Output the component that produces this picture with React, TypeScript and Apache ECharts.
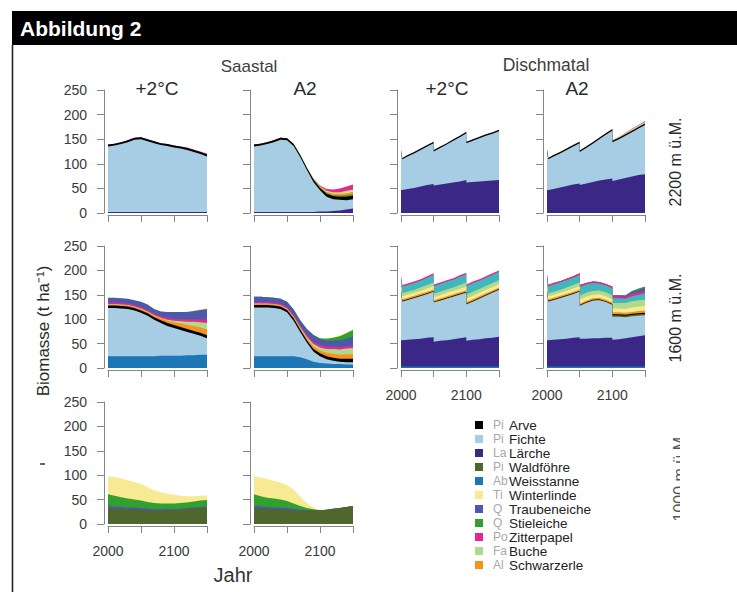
import React, { useEffect, useRef } from "react";
import * as echarts from "echarts";

const FONT = "'Liberation Sans', Arial, Helvetica, sans-serif";

// ---- time axes ----
const yearsSmooth = [2000, 2010, 2020, 2030, 2040, 2050, 2060, 2070, 2080, 2090, 2100, 2110, 2120, 2130, 2140, 2150];
const yearsSaw = [2000, 2002, 2010, 2020, 2030, 2040, 2050, 2050, 2060, 2070, 2080, 2090, 2100, 2100, 2110, 2120, 2130, 2140, 2150];

const xTickLabels = [2000, 2100];

// ---- legend ----
const legendSpecies = ["Arve", "Fichte", "Lärche", "Waldföhre", "Weisstanne", "Winterlinde", "Traubeneiche", "Stieleiche", "Zitterpapel", "Buche", "Schwarzerle"];
const latinPrefix: Record<string, string> = {
  Arve: "Pi", Fichte: "Pi", "Lärche": "La", "Waldföhre": "Pi", Weisstanne: "Ab", Winterlinde: "Ti",
  Traubeneiche: "Q", Stieleiche: "Q", Zitterpapel: "Po", Buche: "Fa", Schwarzerle: "Al",
};
const speciesColor: Record<string, string> = {
  Arve: "#000000", Fichte: "#a6cde4", "Lärche": "#3b2785", "Waldföhre": "#4f662c", Weisstanne: "#1d76b6",
  Winterlinde: "#f8e993", Traubeneiche: "#4b59ad", Stieleiche: "#30a02f", Zitterpapel: "#e5288b",
  Buche: "#b0da8a", Schwarzerle: "#f6921e", "Übrige": "#3fb8bd",
};

// ---- data: layer thickness (t/ha), bottom -> top ----
const saastal2200Plus2: Record<string, number[]> = {
  "Lärche": [2, 2, 2, 2, 2, 2, 2, 2, 2, 2, 2, 2, 2, 2, 2, 2],
  Fichte: [133, 135, 138, 142, 147, 148, 144, 140, 136, 134, 131, 129, 126, 122, 118, 113],
  Arve: [4, 4, 4, 4, 4, 4, 4, 4, 4, 4, 4, 4, 4, 4, 4, 4],
  Zitterpapel: [0, 0, 0, 0, 0, 0, 0, 0, 0, 0, 0, 0, 1, 1, 1, 2],
};
const saastal2200A2: Record<string, number[]> = {
  "Lärche": [2, 2, 2, 2, 2, 2, 2, 2, 2, 2, 3, 3, 4, 5, 7, 9],
  Fichte: [133, 135, 138, 142, 147, 146, 134, 112, 86, 61, 43, 30, 24, 22, 19, 19],
  Arve: [4, 4, 4, 4, 4, 4, 4, 4, 4, 5, 5, 6, 6, 6, 7, 7],
  Stieleiche: [0, 0, 0, 0, 0, 0, 0, 0, 0, 0, 1, 1, 2, 2, 3, 3],
  Schwarzerle: [0, 0, 0, 0, 0, 0, 0, 0, 0, 1, 2, 3, 3, 4, 4, 5],
  Winterlinde: [0, 0, 0, 0, 0, 0, 0, 0, 0, 0, 0, 1, 1, 1, 2, 2],
  Buche: [0, 0, 0, 0, 0, 0, 0, 0, 0, 0, 0, 1, 2, 2, 3, 3],
  Zitterpapel: [0, 0, 0, 0, 0, 0, 0, 0, 0, 1, 2, 4, 6, 8, 9, 10],
};
const saastal1600Plus2: Record<string, number[]> = {
  Weisstanne: [24, 24, 24, 24, 24, 24, 24, 24, 25, 25, 25, 25, 26, 26, 27, 27],
  Fichte: [99, 99, 98, 97, 94, 89, 83, 75, 67, 61, 57, 53, 48, 44, 39, 34],
  Arve: [5, 5, 5, 5, 5, 5, 5, 5, 6, 6, 6, 6, 6, 6, 6, 6],
  Schwarzerle: [2, 2, 2, 2, 2, 3, 3, 3, 4, 5, 6, 7, 8, 10, 11, 12],
  Buche: [1, 1, 1, 1, 1, 1, 1, 1, 1, 2, 3, 5, 7, 9, 11, 13],
  Zitterpapel: [3, 3, 3, 3, 3, 3, 3, 3, 3, 4, 4, 4, 5, 5, 6, 7],
  Traubeneiche: [10, 10, 10, 10, 10, 11, 11, 10, 10, 12, 14, 15, 15, 17, 19, 22],
  Winterlinde: [0, 0, 0, 0, 0, 0, 0, 0, 0, 0, 0, 0, 1, 1, 2, 2],
};
const saastal1600A2: Record<string, number[]> = {
  Weisstanne: [24, 24, 24, 24, 24, 24, 24, 22, 18, 13, 10, 9, 8, 8, 7, 7],
  Fichte: [100, 100, 100, 99, 97, 90, 73, 52, 34, 21, 14, 9, 7, 5, 5, 5],
  Arve: [5, 5, 5, 5, 5, 5, 5, 5, 5, 5, 6, 6, 6, 6, 7, 7],
  Schwarzerle: [2, 2, 2, 2, 2, 2, 3, 3, 4, 5, 6, 7, 8, 8, 9, 9],
  Buche: [1, 1, 1, 1, 1, 1, 1, 2, 3, 5, 6, 8, 10, 11, 12, 13],
  Zitterpapel: [3, 3, 3, 3, 3, 3, 3, 3, 4, 5, 5, 5, 5, 5, 5, 5],
  Traubeneiche: [11, 11, 10, 10, 10, 11, 11, 11, 12, 13, 12, 12, 12, 14, 15, 18],
  Stieleiche: [0, 0, 0, 0, 0, 0, 0, 0, 0, 1, 2, 4, 6, 8, 11, 14],
  Winterlinde: [0, 0, 0, 0, 0, 0, 0, 0, 0, 0, 0, 1, 1, 2, 2, 2],
};
const saastal1000Plus2: Record<string, number[]> = {
  "Waldföhre": [33, 32, 31, 30, 30, 29, 28, 27, 27, 28, 28, 29, 31, 32, 33, 34],
  Traubeneiche: [5, 4, 4, 4, 4, 4, 4, 3, 3, 3, 2, 2, 2, 2, 2, 2],
  Stieleiche: [23, 22, 20, 18, 16, 15, 13, 13, 12, 11, 12, 12, 11, 12, 13, 13],
  Winterlinde: [37, 38, 38, 37, 36, 34, 31, 26, 23, 20, 18, 15, 13, 11, 10, 10],
};
const saastal1000A2: Record<string, number[]> = {
  "Waldföhre": [33, 32, 31, 30, 30, 29, 28, 27, 27, 28, 28, 29, 31, 33, 35, 37],
  Traubeneiche: [5, 4, 4, 4, 4, 4, 3, 2, 1, 0, 0, 0, 0, 0, 0, 0],
  Stieleiche: [23, 21, 19, 18, 16, 14, 11, 8, 5, 2, 0, 0, 0, 0, 0, 0],
  Winterlinde: [37, 38, 38, 36, 35, 33, 28, 19, 10, 4, 1, 0, 0, 0, 0, 0],
};
const dischma2200Plus2: Record<string, number[]> = {
  "Lärche": [47, 47, 49, 51, 54, 57, 59, 56, 58, 60, 62, 64, 67, 62, 63, 64, 65, 66, 67],
  Fichte: [78, 62, 66, 70, 74, 78, 83, 69, 74, 79, 85, 90, 95, 80, 84, 88, 92, 95, 99],
  Arve: [3, 3, 3, 3, 3, 3, 3, 3, 3, 3, 3, 3, 3, 3, 3, 3, 3, 3, 3],
};
const dischma2200A2: Record<string, number[]> = {
  "Lärche": [47, 47, 49, 52, 55, 58, 60, 57, 60, 63, 66, 68, 70, 65, 68, 71, 74, 77, 79],
  Fichte: [78, 62, 66, 69, 73, 77, 82, 67, 72, 78, 84, 91, 97, 79, 82, 86, 90, 95, 100],
  Arve: [3, 3, 3, 3, 3, 3, 3, 3, 3, 3, 3, 3, 3, 3, 3, 3, 3, 3, 3],
  Buche: [0, 0, 0, 0, 0, 0, 0, 0, 0, 0, 0, 0, 1, 1, 1, 1, 2, 2, 2],
  Winterlinde: [0, 0, 0, 0, 0, 0, 0, 0, 0, 0, 0, 0, 0, 0, 1, 1, 1, 1, 1],
  Zitterpapel: [0, 0, 0, 0, 0, 0, 0, 0, 0, 0, 0, 0, 0, 0, 0, 1, 1, 1, 2],
};
const dischma1600Plus2: Record<string, number[]> = {
  Weisstanne: [3, 3, 3, 3, 3, 3, 3, 3, 3, 3, 3, 3, 3, 3, 3, 3, 3, 3, 3],
  "Lärche": [54, 54, 55, 56, 57, 59, 60, 51, 53, 54, 56, 58, 60, 53, 55, 56, 58, 59, 61],
  Fichte: [99, 79, 81, 84, 87, 89, 93, 80, 82, 85, 87, 89, 91, 74, 78, 83, 87, 92, 96],
  "Waldföhre": [1, 1, 1, 1, 1, 1, 1, 1, 1, 1, 1, 1, 1, 1, 1, 1, 1, 1, 1],
  Arve: [1, 1, 1, 1, 1, 1, 1, 1, 1, 1, 1, 1, 1, 1, 1, 1, 1, 1, 1],
  Schwarzerle: [3, 3, 3, 3, 3, 3, 3, 3, 3, 3, 3, 3, 3, 3, 3, 3, 3, 3, 3],
  Winterlinde: [6, 6, 6, 6, 6, 7, 7, 6, 6, 7, 7, 7, 8, 7, 7, 7, 7, 7, 7],
  Buche: [6, 6, 6, 6, 7, 7, 7, 7, 7, 7, 7, 8, 8, 8, 8, 8, 8, 8, 8],
  "Übrige": [14, 14, 14, 14, 14, 15, 16, 16, 16, 16, 16, 17, 17, 18, 18, 17, 17, 17, 17],
  Zitterpapel: [3, 3, 3, 3, 3, 3, 3, 3, 3, 3, 3, 3, 3, 3, 3, 3, 3, 3, 3],
};
const dischma1600A2: Record<string, number[]> = {
  Weisstanne: [3, 3, 3, 3, 3, 3, 3, 3, 3, 3, 3, 3, 3, 3, 3, 3, 3, 3, 3],
  "Lärche": [54, 54, 55, 56, 57, 59, 60, 57, 57, 58, 58, 59, 59, 55, 56, 58, 60, 62, 64],
  Fichte: [99, 79, 81, 84, 87, 89, 93, 67, 73, 77, 78, 73, 67, 47, 46, 43, 43, 42, 41],
  "Waldföhre": [1, 1, 1, 1, 1, 1, 1, 1, 1, 1, 1, 1, 1, 3, 3, 3, 3, 3, 3],
  Arve: [1, 1, 1, 1, 1, 1, 1, 1, 1, 1, 1, 1, 1, 2, 2, 2, 2, 2, 2],
  Schwarzerle: [3, 3, 3, 3, 3, 3, 3, 3, 3, 3, 3, 3, 3, 4, 4, 4, 4, 5, 5],
  Winterlinde: [6, 6, 6, 6, 6, 7, 7, 8, 8, 7, 7, 7, 7, 8, 8, 8, 9, 9, 9],
  Buche: [6, 6, 6, 6, 7, 7, 7, 8, 8, 8, 8, 8, 8, 11, 11, 12, 13, 13, 13],
  "Übrige": [14, 14, 15, 15, 15, 15, 16, 18, 17, 16, 14, 14, 15, 10, 10, 9, 10, 11, 13],
  Zitterpapel: [3, 3, 3, 3, 3, 3, 3, 4, 3, 3, 3, 3, 3, 4, 4, 4, 5, 5, 5],
  Traubeneiche: [0, 0, 0, 0, 0, 0, 0, 0, 0, 0, 0, 0, 0, 2, 2, 2, 4, 5, 6],
  Stieleiche: [0, 0, 0, 0, 0, 0, 0, 0, 0, 0, 0, 0, 0, 0, 0, 1, 2, 3, 3],
};

// ---- layout ----
const colLeft = [108, 254, 401, 547];
const colWidth = [99, 99, 98, 98];
const rowTop = [90, 246, 402];
const rowHeight = [123, 122, 122];

const panels = [
  { layers: saastal2200Plus2, years: yearsSmooth, row: 0, col: 0, yLab: true, xLab: false },
  { layers: saastal2200A2, years: yearsSmooth, row: 0, col: 1, yLab: false, xLab: false },
  { layers: dischma2200Plus2, years: yearsSaw, row: 0, col: 2, yLab: false, xLab: false },
  { layers: dischma2200A2, years: yearsSaw, row: 0, col: 3, yLab: false, xLab: false },
  { layers: saastal1600Plus2, years: yearsSmooth, row: 1, col: 0, yLab: true, xLab: false },
  { layers: saastal1600A2, years: yearsSmooth, row: 1, col: 1, yLab: false, xLab: false },
  { layers: dischma1600Plus2, years: yearsSaw, row: 1, col: 2, yLab: false, xLab: true },
  { layers: dischma1600A2, years: yearsSaw, row: 1, col: 3, yLab: false, xLab: true },
  { layers: saastal1000Plus2, years: yearsSmooth, row: 2, col: 0, yLab: true, xLab: true },
  { layers: saastal1000A2, years: yearsSmooth, row: 2, col: 1, yLab: false, xLab: true },
];

const AXIS_COLOR = "#858585";

function buildOption() {
  const grid: any[] = [];
  const xAxis: any[] = [];
  const yAxis: any[] = [];
  const series: any[] = [];

  panels.forEach((p, i) => {
    grid.push({
      left: colLeft[p.col], top: rowTop[p.row], width: colWidth[p.col], height: rowHeight[p.row],
      containLabel: false, outerBoundsMode: "none",
    });
    xAxis.push({
      type: "value", gridIndex: i, min: 2000, max: 2150, interval: 50, offset: 2,
      axisLine: { show: true, onZero: false, lineStyle: { color: AXIS_COLOR, width: 1 } },
      axisTick: { show: true, length: 7, lineStyle: { color: AXIS_COLOR, width: 1 } },
      axisLabel: {
        show: p.xLab, margin: 18, fontSize: 14, color: "#3a3a3a", fontFamily: FONT,
        showMinLabel: true, showMaxLabel: true,
        formatter: (v: number) => (xTickLabels.includes(v) ? String(v) : ""),
      },
      splitLine: { show: false },
    });
    yAxis.push({
      type: "value", gridIndex: i, min: 0, max: 250, interval: 50, offset: 4,
      axisLine: { show: true, onZero: false, lineStyle: { color: AXIS_COLOR, width: 1 } },
      axisTick: { show: true, length: 7, lineStyle: { color: AXIS_COLOR, width: 1 } },
      axisLabel: { show: p.yLab, margin: 17, fontSize: 14, color: "#3a3a3a", fontFamily: FONT },
      splitLine: { show: false },
    });

    const names = Object.keys(p.layers);
    const cum: number[][] = [];
    let run = p.years.map(() => 0);
    names.forEach((n) => {
      run = run.map((v, k) => v + p.layers[n][k]);
      cum.push(run);
    });
    for (let j = names.length - 1; j >= 0; j--) {
      const color = speciesColor[names[j]];
      series.push({
        type: "line", name: names[j], xAxisIndex: i, yAxisIndex: i,
        data: p.years.map((yr, k) => [yr, cum[j][k]]),
        symbol: "none", showSymbol: false, silent: true, animation: false,
        lineStyle: { width: 0, color },
        itemStyle: { color },
        areaStyle: { color, opacity: 1, origin: "start" },
      });
    }
  });

  const txt = (x: number, y: number, text: string, size: number, extra: any = {}) => ({
    type: "text", x, y, silent: true, ...extra,
    style: {
      text, fill: extra.fill || "#2a2a2a", fontSize: size, fontFamily: FONT,
      fontWeight: extra.fontWeight || "normal", align: extra.align || "center", verticalAlign: "middle",
    },
  });

  const graphic: any[] = [
    { type: "rect", shape: { x: 12, y: 11, width: 725, height: 34 }, style: { fill: "#000" }, silent: true },
    txt(20, 28, "Abbildung 2", 21, { fill: "#ffffff", fontWeight: "bold", align: "left" }),
    { type: "line", shape: { x1: 12.5, y1: 45, x2: 12.5, y2: 592 }, style: { stroke: "#222", lineWidth: 1.6 }, silent: true },
    txt(249, 66, "Saastal", 17, { fill: "#404040" }),
    txt(546, 65, "Dischmatal", 17.5, { fill: "#404040" }),
    txt(157, 88, "+2°C", 19),
    txt(305, 88, "A2", 19),
    txt(447, 88, "+2°C", 19),
    txt(577, 88, "A2", 19),
    txt(43, 331, "Biomasse (t ha⁻¹)", 17, { rotation: Math.PI / 2 }),
    txt(233, 575, "Jahr", 20, { fill: "#333" }),
    txt(675, 162, "2200 m ü.M.", 16, { rotation: Math.PI / 2 }),
    txt(675, 318, "1600 m ü.M.", 16, { rotation: Math.PI / 2 }),
    txt(679, 477, "1000 m ü.M.", 16, { rotation: Math.PI / 2, fill: "#555" }),
    { type: "rect", shape: { x: 680, y: 420, width: 30, height: 115 }, style: { fill: "#fff" }, z: 20, silent: true },
    { type: "line", shape: { x1: 40, y1: 464, x2: 45, y2: 464 }, style: { stroke: "#333", lineWidth: 1.5 }, silent: true },
  ];

  return {
    animation: false,
    backgroundColor: "#ffffff",
    grid, xAxis, yAxis, series, graphic,
    legend: {
      data: legendSpecies,
      orient: "vertical", left: 475, top: 418, padding: 0,
      itemWidth: 8, itemHeight: 8, itemGap: 0, icon: "rect", selectedMode: false,
      formatter: (name: string) => `{lat|${latinPrefix[name] || ""}}{de|${name}}`,
      textStyle: {
        fontFamily: FONT, fontSize: 13.5, lineHeight: 13.8, color: "#222",
        rich: {
          lat: { color: "#a8a8a8", fontSize: 12, width: 16, padding: [0, 0, 0, 5], lineHeight: 13.8, fontFamily: FONT },
          de: { color: "#222", fontSize: 13.5, lineHeight: 13.8, fontFamily: FONT },
        },
      },
    },
  };
}

export default function App() {
  const ref = useRef<HTMLDivElement>(null);
  useEffect(() => {
    if (!ref.current) return;
    const chart = echarts.init(ref.current, null, { renderer: "svg" });
    chart.setOption(buildOption() as any);
    return () => chart.dispose();
  }, []);
  return (
    <div
      ref={ref}
      style={{ position: "fixed", left: 0, top: 0, width: 737, height: 592, background: "#fff" }}
    />
  );
}
